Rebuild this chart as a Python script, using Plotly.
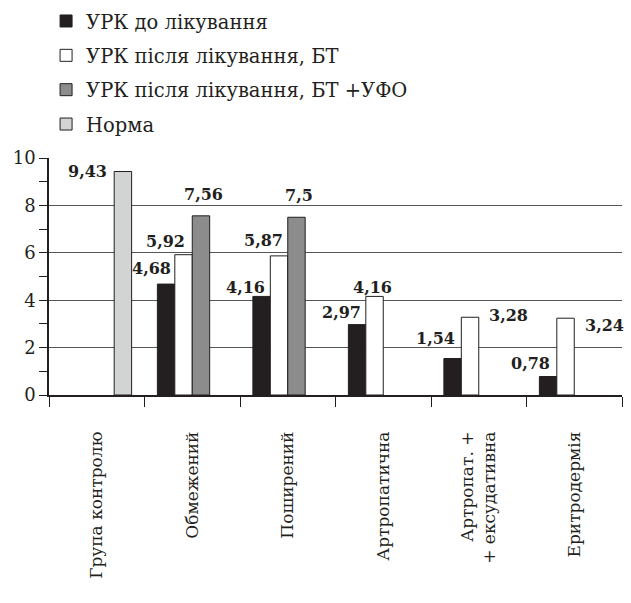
import plotly.graph_objects as go

categories = ["Група контролю", "Обмежений", "Поширений", "Артропатична",
              "Артропат. +<br>+ ексудативна", "Еритродермія"]
series_names = ["УРК до лікування", "УРК після лікування, БТ",
                "УРК після лікування, БТ +УФО", "Норма"]
before = [None, 4.68, 4.16, 2.97, 1.54, 0.78]
after_bt = [None, 5.92, 5.87, 4.16, 3.28, 3.24]
after_bt_ufo = [None, 7.56, 7.50, None, None, None]
norma = [9.43, None, None, None, None, None]
y_ticks = [0, 2, 4, 6, 8, 10]

series_values = [before, after_bt, after_bt_ufo, norma]
colors = ["#231f20", "#ffffff", "#8c8c8c", "#d2d3d3"]

# label placement style: (series index, category index) -> (xanchor, dx px, dy px)
label_style = {
    (3, 0): ("right", -14, 0),
    (0, 1): ("right", 7, 16),
    (1, 1): ("right", 3.5, 13),
    (2, 1): ("center", 2.5, 21),
    (0, 2): ("right", 5.5, 9),
    (1, 2): ("right", 6, 15),
    (2, 2): ("center", 2.5, 22),
    (0, 3): ("right", 6, 12),
    (1, 3): ("center", -2.5, 9),
    (0, 4): ("right", 4.5, 20),
    (1, 4): ("left", 17, 2),
    (0, 5): ("right", 4, 13),
    (1, 5): ("left", 17.5, -7),
}

BARGAP = 0.27
n_series = len(series_values)
bar_w = (1 - BARGAP) / n_series

fig = go.Figure()
for k, (name, vals, col) in enumerate(zip(series_names, series_values, colors)):
    fig.add_trace(go.Bar(
        x=categories, y=vals, name=name, legendgroup=f"g{k}",
        marker=dict(color=col, line=dict(color="#231f20", width=1)),
    ))

def fmt(v):
    s = f"{v:.2f}".rstrip("0").rstrip(".")
    return s.replace(".", ",")

for (k, i), (xa, dx, dy) in label_style.items():
    v = series_values[k][i]
    xc = i + (k - (n_series - 1) / 2) * bar_w
    fig.add_annotation(
        x=xc, y=v, xref="x", yref="y", text=f"<b>{fmt(v)}</b>", showarrow=False,
        xanchor=xa, yanchor="middle", xshift=dx, yshift=dy,
        font=dict(family="DejaVu Serif", size=16, color="#231f20"),
    )

fig.update_layout(
    width=631, height=603, autosize=False,
    margin=dict(l=49, r=9, t=158, b=208, autoexpand=False),
    plot_bgcolor="white", paper_bgcolor="white",
    barmode="group", bargap=BARGAP, bargroupgap=0,
    showlegend=True,
    legend=dict(
        xref="container", yref="container", x=0.073, y=0.997,
        xanchor="left", yanchor="top",
        font=dict(family="DejaVu Serif", size=19.5, color="#231f20"),
        traceorder="grouped", tracegroupgap=6,
        bgcolor="rgba(0,0,0,0)",
    ),
    font=dict(family="DejaVu Serif", color="#231f20"),
)
fig.update_xaxes(
    type="category", range=[-0.5, len(categories) - 0.5],
    tickangle=-90, tickfont=dict(family="DejaVu Serif", size=17, color="#231f20"),
    ticklabelstandoff=28,
    showline=True, linecolor="#231f20", linewidth=1.5,
    ticks="outside", ticklen=10, tickcolor="#231f20", tickwidth=1.2,
    tickson="boundaries", showgrid=False, zeroline=False, automargin=False,
)
fig.update_yaxes(
    range=[0, 10], tickmode="array", tickvals=y_ticks,
    tickfont=dict(family="DejaVu Serif", size=18, color="#231f20"),
    showline=True, linecolor="#231f20", linewidth=1.5,
    ticks="outside", ticklen=8, tickcolor="#231f20", tickwidth=1.2,
    showgrid=True, gridcolor="#555555", gridwidth=1,
    minor=dict(dtick=1, ticks="outside", ticklen=8, tickcolor="#231f20", showgrid=False),
    zeroline=False, automargin=False,
)

fig.write_html(
    "out.html",
    config={"displayModeBar": False},
    post_script="document.body.style.margin='0';document.body.style.padding='0';",
)
